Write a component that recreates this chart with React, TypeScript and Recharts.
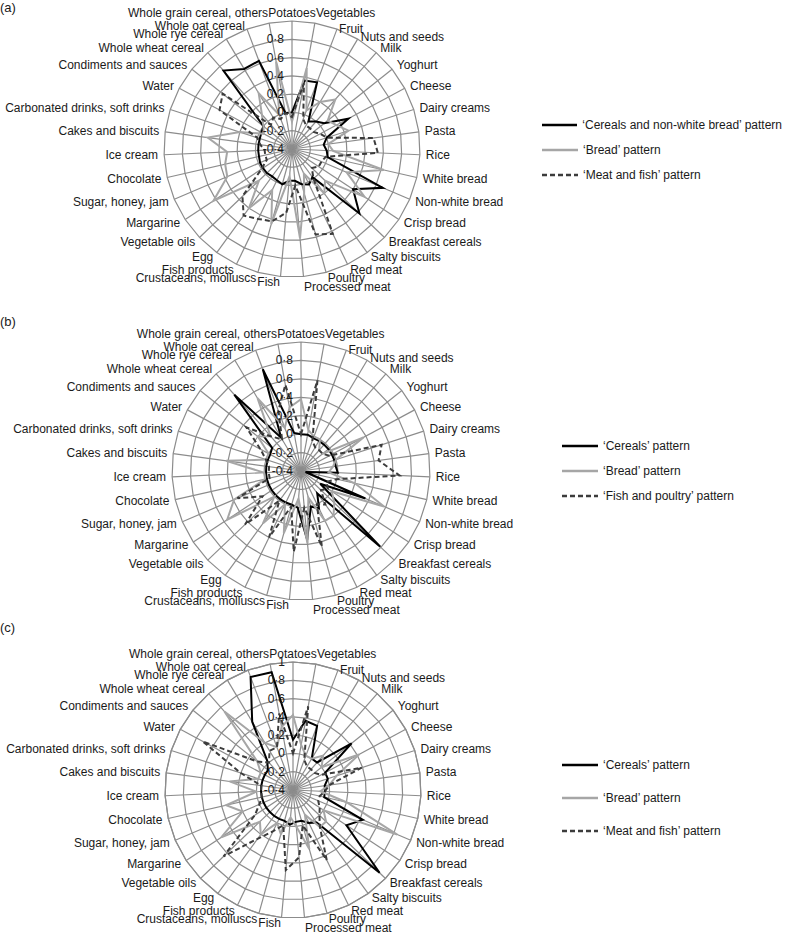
import { RadarChart, Radar, PolarGrid, PolarAngleAxis, PolarRadiusAxis, Legend } from "recharts";

const CATEGORIES = [
  "Potatoes", "Vegetables", "Fruit", "Nuts and seeds", "Milk", "Yoghurt", "Cheese",
  "Dairy creams", "Pasta", "Rice", "White bread", "Non-white bread", "Crisp bread",
  "Breakfast cereals", "Salty biscuits", "Red meat", "Poultry", "Processed meat", "Fish",
  "Crustaceans, molluscs", "Fish products", "Egg", "Vegetable oils", "Margarine",
  "Sugar, honey, jam", "Chocolate", "Ice cream", "Cakes and biscuits",
  "Carbonated drinks, soft drinks", "Water", "Condiments and sauces", "Whole wheat cereal",
  "Whole rye cereal", "Whole oat cereal", "Whole grain cereal, others",
];

const TICKS_AB = [-0.4, -0.2, 0, 0.2, 0.4, 0.6, 0.8];
const TICKS_C = [-0.4, -0.2, 0, 0.2, 0.4, 0.6, 0.8, 1];

// (a)
const cerealsA = [0, 0.36, 0.38, -0.05, 0, 0.05, 0.3, 0, -0.05, -0.02, 0, 0.68, 0.4, 0.62, -0.02, 0.03, 0, -0.05, -0.05, 0, -0.02, -0.03, -0.02, -0.02, -0.02, -0.03, -0.03, -0.03, -0.03, -0.02, 0, 0.74, 0.62, 0.63, 0];
const breadA = [-0.1, 0.5, 0.05, 0.2, 0.32, 0.1, 0.15, 0.25, 0, 0.05, 0.63, 0.25, 0.55, 0.1, 0.2, -0.1, 0.1, 0.58, -0.1, 0.45, 0.1, 0.4, 0.1, 0.63, 0.37, 0.35, 0.31, 0.53, 0.2, -0.05, 0, 0.1, 0.31, 0, 0.57];
const meatFishA = [-0.05, 0.33, -0.05, -0.1, -0.1, -0.1, -0.05, 0, 0.5, 0.54, -0.02, -0.05, -0.05, -0.1, 0, 0.63, 0.57, 0, 0.3, 0.42, 0.45, 0.5, 0.35, 0, -0.1, -0.1, -0.1, -0.05, 0, 0.5, 0.57, -0.05, 0, -0.05, 0];

// (b)
const cerealsB = [0, 0, -0.02, -0.02, -0.02, -0.02, -0.02, -0.02, -0.02, 0, -0.35, 0.36, -0.15, 0.79, -0.1, 0.05, 0, 0.35, 0, -0.02, -0.02, -0.02, -0.02, -0.02, -0.02, -0.02, -0.02, -0.02, -0.02, -0.02, 0, 0.7, 0.02, 0.78, 0.02];
const breadB = [0.38, 0.05, 0, 0, -0.1, -0.1, 0.37, 0, -0.05, -0.1, 0.2, 0.58, 0, 0.1, 0.2, 0.2, -0.1, 0.39, -0.1, 0.3, 0, 0.3, 0, 0.56, 0.39, 0, 0, 0.42, 0, 0, 0.2, 0.1, 0.52, 0.1, 0.3];
const fishPoultryB = [0, 0.6, -0.05, -0.1, -0.1, -0.1, -0.05, 0.52, 0.45, 0.67, 0, -0.1, -0.05, -0.1, 0.05, 0, 0.45, 0, 0.48, 0, 0.4, 0, 0.44, 0.1, 0.35, -0.05, -0.05, -0.05, 0, 0.1, 0.36, 0.1, 0, 0.3, 0.55];

// (c)
const cerealsC = [0.15, 0.37, 0.35, 0, 0, 0.42, 0, 0, -0.05, -0.05, -0.05, 0.43, 0.3, 0.91, 0.04, 0, -0.05, -0.05, -0.02, -0.05, -0.05, -0.05, -0.05, -0.05, -0.05, -0.05, -0.05, -0.05, -0.05, -0.05, -0.05, 0.03, 0.47, 0.92, 0.91];
const breadC = [0.42, 0.1, 0, 0, 0.1, 0, 0.42, 0.1, 0, -0.1, 0.2, 0.84, 0, 0.1, 0.1, -0.1, 0.27, 0, -0.1, 0.1, 0, 0.2, 0.1, 0.54, 0.2, 0.35, 0, 0.3, 0, 0, 0.1, 0.74, 0.2, 0.1, 0.3];
const meatFishC = [0, 0.53, -0.05, -0.1, -0.1, -0.1, -0.05, 0.39, 0, -0.05, -0.1, -0.1, -0.05, 0, 0.1, 0.45, 0, 0.34, 0.48, 0, 0.1, 0.26, 0.65, 0.1, 0, -0.05, -0.05, -0.05, 0.2, 0.72, 0.1, 0, 0.1, 0.1, 0.45];

const FONT = "'Liberation Sans', Arial, sans-serif";

const SERIES_STYLE = [
  { key: "s1", stroke: "#000000", dash: undefined },
  { key: "s2", stroke: "#a6a6a6", dash: undefined },
  { key: "s3", stroke: "#3c3c3c", dash: "5 3" },
];

const buildRows = (a: number[], b: number[], c: number[]) =>
  CATEGORIES.map((name, i) => ({ name, s1: a[i], s2: b[i], s3: c[i] }));

const fmt = (v: number) => String(v).replace(".", "·");

// labels sit with their middle on the spoke end, nudged a bit near top and bottom like Excel does
const labelShift = (dx: number, dy: number) => {
  if (Math.abs(dx) < 6) return dy < 0 ? -2 : 3;
  if (dy > 0) return dx > 0 && dx < 15 ? 5 : 0;
  const ax = Math.abs(dx);
  if (ax < 30) return -4;
  if (dx >= 30 && dx < 60) return 5;
  if (dx <= -30 && dx > -60) return 2;
  if (dx >= 60 && dx < 80) return 3;
  return 0;
};

const makeAngleTick = (cx: number, cy: number) => (props: any) => {
  const { x, y, payload } = props;
  const dx = x - cx;
  const dy = y - cy;
  const anchor = Math.abs(dx) < 6 ? "middle" : dx > 0 ? "start" : "end";
  return (
    <text
      x={x}
      y={y + 4 + labelShift(dx, dy)}
      textAnchor={anchor}
      fontSize={12}
      fontFamily={FONT}
      fill="#1a1a1a"
    >
      {payload.value}
    </text>
  );
};

const RadiusTick = (props: any) => {
  const { x, y, payload } = props;
  return (
    <text x={x - 8} y={y + 4} textAnchor="end" fontSize={12} fontFamily={FONT} fill="#1a1a1a">
      {fmt(payload.value)}
    </text>
  );
};

interface PanelProps {
  tag: string;
  top: number;
  height: number;
  cx: number;
  cy: number;
  radius: number;
  ticks: number[];
  names: string[];
  data: any[];
  legendX: number;
  legendY: number;
  legendGap: number;
}

const Panel = ({ tag, top, height, cx, cy, radius, ticks, names, data, legendX, legendY, legendGap }: PanelProps) => {
  const legendContent = () => (
    <div style={{ fontFamily: FONT, fontSize: 12, color: "#1a1a1a", whiteSpace: "nowrap" }}>
      {SERIES_STYLE.map((s, i) => (
        <div key={s.key} style={{ display: "flex", alignItems: "center", height: legendGap }}>
          <svg width={36} height={6} style={{ marginRight: 5 }}>
            <line x1={0} y1={3} x2={36} y2={3} stroke={s.stroke} strokeWidth={2.5} strokeDasharray={s.dash} />
          </svg>
          <span>{names[i]}</span>
        </div>
      ))}
    </div>
  );

  return (
    <div style={{ position: "absolute", left: 0, top, width: 786, height }}>
      <div style={{ position: "absolute", left: 0, top: 0, fontFamily: FONT, fontSize: 13, color: "#1a1a1a" }}>{tag}</div>
      <RadarChart width={786} height={height} data={data} cx={cx} cy={cy} outerRadius={radius} margin={{ top: 0, right: 0, bottom: 0, left: 0 }}>
        <PolarGrid gridType="polygon" stroke="#8c8c8c" strokeWidth={1.2} />
        <PolarAngleAxis
          dataKey="name"
          tick={makeAngleTick(cx, cy)}
          tickLine={false}
          tickSize={6}
          stroke="#8c8c8c"
          strokeWidth={1.2}
        />
        <PolarRadiusAxis
          angle={90}
          type="number"
          domain={[ticks[0], ticks[ticks.length - 1]]}
          ticks={ticks}
          tick={<RadiusTick />}
          axisLine={false}
          tickLine={false}
        />
        {SERIES_STYLE.map((s, i) => (
          <Radar
            key={s.key}
            name={names[i]}
            dataKey={s.key}
            stroke={s.stroke}
            strokeWidth={2}
            strokeDasharray={s.dash}
            fill="none"
            fillOpacity={0}
            dot={false}
            isAnimationActive={false}
          />
        ))}
        <Legend
          content={legendContent}
          wrapperStyle={{ position: "absolute", left: legendX, top: legendY, width: 240 }}
        />
      </RadarChart>
    </div>
  );
};

export default function App() {
  return (
    <div style={{ position: "absolute", left: 0, top: 0, width: 786, height: 935, background: "#fff" }}>
      <Panel
        tag="(a)"
        top={0}
        height={310}
        cx={292}
        cy={149}
        radius={128}
        ticks={TICKS_AB}
        names={["\u2018Cereals and non-white bread\u2019 pattern", "\u2018Bread\u2019 pattern", "\u2018Meat and fish\u2019 pattern"]}
        data={buildRows(cerealsA, breadA, meatFishA)}
        legendX={542}
        legendY={112}
        legendGap={25}
      />
      <Panel
        tag="(b)"
        top={314}
        height={306}
        cx={301}
        cy={157}
        radius={129}
        ticks={TICKS_AB}
        names={["\u2018Cereals\u2019 pattern", "\u2018Bread\u2019 pattern", "\u2018Fish and poultry\u2019 pattern"]}
        data={buildRows(cerealsB, breadB, fishPoultryB)}
        legendX={562}
        legendY={119}
        legendGap={25}
      />
      <Panel
        tag="(c)"
        top={620}
        height={315}
        cx={293}
        cy={170}
        radius={128}
        ticks={TICKS_C}
        names={["\u2018Cereals\u2019 pattern", "\u2018Bread\u2019 pattern", "\u2018Meat and fish\u2019 pattern"]}
        data={buildRows(cerealsC, breadC, meatFishC)}
        legendX={562}
        legendY={128}
        legendGap={33}
      />
    </div>
  );
}
